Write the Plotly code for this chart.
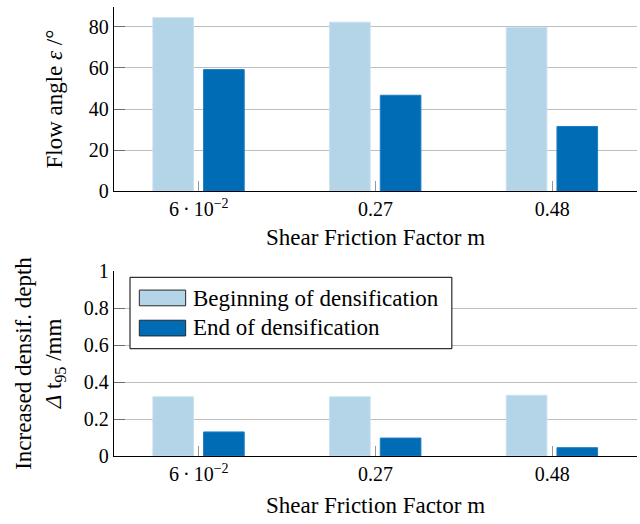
import plotly.graph_objects as go
from plotly.subplots import make_subplots

categories = ["6\u2009·\u200910<sup>−2</sup>", "0.27", "0.48"]
series_names = ["Beginning of densification", "End of densification"]
flow_begin = [84.5, 82.3, 79.8]
flow_end = [59.2, 46.7, 31.5]
depth_begin = [0.32, 0.32, 0.328]
depth_end = [0.13, 0.097, 0.045]
y1_ticks = [0, 20, 40, 60, 80]
y2_ticks = [0, 0.2, 0.4, 0.6, 0.8, 1]
y2_ticklabels = ["0", "0.2", "0.4", "0.6", "0.8", "1"]

LIGHT = "rgb(180,212,232)"
DARK = "rgb(0,108,182)"
FONT = "Liberation Serif, Times New Roman, serif"
FS = 20      # tick labels
FT = 23      # titles / legend

xpos = list(range(len(categories)))

fig = make_subplots(rows=2, cols=1, vertical_spacing=0.18)

def add_pair(row, begin, end):
    fig.add_trace(go.Bar(x=xpos, y=begin, name=series_names[0], marker=dict(color=LIGHT, line=dict(color="rgb(200,225,240)", width=1)),
                         width=0.23, offset=-0.26, showlegend=False), row=row, col=1)
    fig.add_trace(go.Bar(x=xpos, y=end, name=series_names[1], marker=dict(color=DARK, line=dict(color="rgb(30,125,195)", width=1)),
                         width=0.23, offset=0.027, showlegend=False), row=row, col=1)

add_pair(1, flow_begin, flow_end)
add_pair(2, depth_begin, depth_end)

xcommon = dict(range=[-0.48, 2.48], tickvals=xpos, ticktext=categories, ticks="inside", ticklen=10,
               tickcolor="rgb(150,150,150)", tickwidth=1, showline=True, linecolor="black", linewidth=1.3,
               showgrid=False, zeroline=False, automargin=False,
               tickfont=dict(family=FONT, size=FS, color="black"))
fig.update_xaxes(**xcommon, title=dict(text="Shear Friction Factor m", font=dict(family=FONT, size=FT, color="black"), standoff=9),
                 row=1, col=1)
fig.update_xaxes(**xcommon, title=dict(text="Shear Friction Factor m", font=dict(family=FONT, size=FT, color="black"), standoff=12),
                 row=2, col=1)

ycommon = dict(ticks="inside", ticklen=11, tickcolor="rgb(110,110,110)", tickwidth=1, showline=True,
               linecolor="black", linewidth=1.3, showgrid=True, gridcolor="rgb(190,190,190)", gridwidth=1,
               zeroline=False, automargin=False, tickfont=dict(family=FONT, size=FS, color="black"))
fig.update_yaxes(**ycommon, range=[0, 89.7], tickvals=y1_ticks,
                 title=dict(text="Flow angle <i>ε</i> /°", font=dict(family=FONT, size=FT, color="black"), standoff=19),
                 row=1, col=1)
fig.update_yaxes(**ycommon, range=[0, 1], tickvals=y2_ticks, ticktext=y2_ticklabels,
                 title=dict(text="Increased densif. depth<br><i>Δ</i> t<sub>95</sub> /mm", font=dict(family=FONT, size=FT, color="black"), standoff=15),
                 row=2, col=1)

fig.update_layout(
    width=640, height=524, margin=dict(l=114, r=3, t=7, b=68, autoexpand=False),
    plot_bgcolor="white", paper_bgcolor="white", barmode="overlay",
    font=dict(family=FONT, size=FS, color="black"),
)
fig.layout.yaxis.domain = [0.590, 1.0]
fig.layout.yaxis2.domain = [0.0, 0.412]

# custom legend drawn in the lower subplot's domain coordinates
fig.add_shape(type="rect", xref="x2 domain", yref="y2 domain", x0=0.0306, x1=0.646, y0=0.58, y1=0.966,
              line=dict(color="black", width=1), fillcolor="white", layer="above")
for i, (col, yy0, yy1, ty) in enumerate([(LIGHT, 0.812, 0.897, 0.854), (DARK, 0.649, 0.734, 0.692)]):
    fig.add_shape(type="rect", xref="x2 domain", yref="y2 domain", x0=0.0484, x1=0.137, y0=yy0, y1=yy1,
                  line=dict(color="rgb(40,40,40)", width=1), fillcolor=col, layer="above")
    fig.add_annotation(xref="x2 domain", yref="y2 domain", x=0.147, y=ty, text=series_names[i], showarrow=False,
                       xanchor="left", yanchor="middle", font=dict(family=FONT, size=FT, color="black"))

fig.write_html("out.html")
